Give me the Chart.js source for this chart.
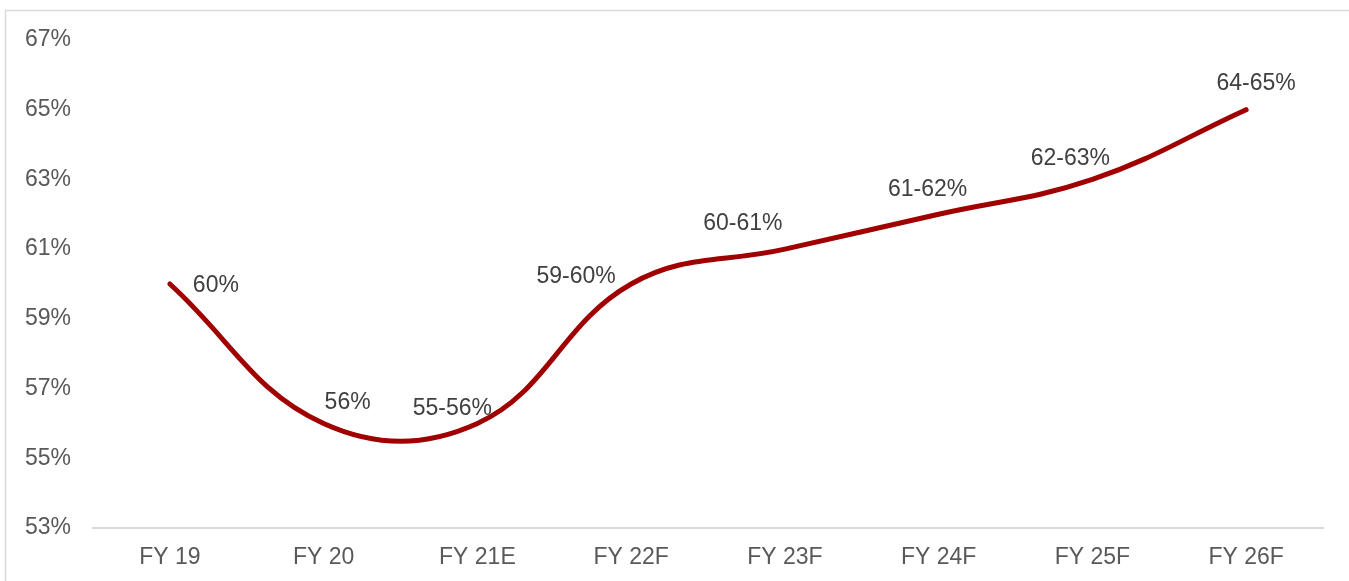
<!DOCTYPE html>
<html>
<head>
<meta charset="utf-8">
<script src="https://cdn.jsdelivr.net/npm/chart.js@4/dist/chart.umd.min.js"></script>
<style>
  html, body { margin: 0; padding: 0; background: #fff; }
  #wrap { width: 1349px; height: 581px; position: relative; }
</style>
</head>
<body>
<div id="wrap"><canvas id="chart"></canvas></div>
<script>
// Data
const years = ['FY 19', 'FY 20', 'FY 21E', 'FY 22F', 'FY 23F', 'FY 24F', 'FY 25F', 'FY 26F'];
const marginValues = [60, 56, 56, 60, 61, 62, 63, 65];
const marginLabels = ['60%', '56%', '55-56%', '59-60%', '60-61%', '61-62%', '62-63%', '64-65%'];
const yTicks = [53, 55, 57, 59, 61, 63, 65, 67];

// where each label sits relative to its point (px)
const labelOffsets = [[46, 2], [24, -21], [-25, -15], [-55, -7], [-42, -25], [-11, -25], [-22, -21], [10, -26]];

const FONT = 'Arial, "Liberation Sans", sans-serif';

const framePlugin = {
    id: 'frame',
    beforeDraw(chart) {
        const c = chart.ctx;
        c.save();
        c.fillStyle = '#fff';
        c.fillRect(0, 0, chart.width, chart.height);
        c.strokeStyle = '#d9d9d9';
        c.lineWidth = 1.5;
        c.beginPath();
        c.moveTo(5.5, chart.height);
        c.lineTo(5.5, 10.5);
        c.lineTo(chart.width, 10.5);
        c.stroke();
        c.restore();
    }
};

const pointLabels = {
    id: 'pointLabels',
    afterDatasetsDraw(chart) {
        const c = chart.ctx;
        const meta = chart.getDatasetMeta(0);
        c.save();
        c.font = '23px ' + FONT;
        c.fillStyle = '#404040';
        c.textAlign = 'center';
        c.textBaseline = 'middle';
        meta.data.forEach((pt, i) => {
            const off = labelOffsets[i];
            c.fillText(marginLabels[i], pt.x + off[0], pt.y + off[1]);
        });
        c.restore();
    }
};

new Chart(document.getElementById('chart'), {
    type: 'line',
    data: {
        labels: years,
        datasets: [{
            data: marginValues,
            borderColor: '#a00000',
            borderWidth: 5,
            borderCapStyle: 'round',
            tension: 0.4,
            pointRadius: 0,
            fill: false
        }]
    },
    options: {
        responsive: true,
        maintainAspectRatio: false,
        animation: false,
        layout: { padding: { top: 40, right: 26, left: 5, bottom: 0 } },
        plugins: { legend: { display: false }, tooltip: { enabled: false } },
        scales: {
            x: {
                offset: true,
                grid: { display: false, drawTicks: false, offset: true },
                border: { display: true, color: '#d9d9d9', width: 2 },
                ticks: { color: '#595959', font: { size: 23, family: FONT }, padding: 16 },
                afterFit: s => { s.height = 53; }
            },
            y: {
                min: 53,
                max: 67,
                afterBuildTicks: s => { s.ticks = yTicks.map(v => ({ value: v })); },
                grid: { display: false, drawTicks: false },
                border: { display: false },
                ticks: {
                    color: '#595959',
                    font: { size: 23, family: FONT },
                    padding: 22,
                    callback: v => v + '%'
                },
                afterFit: s => { s.width = 88; }
            }
        }
    },
    plugins: [framePlugin, pointLabels]
});
</script>
</body>
</html>
